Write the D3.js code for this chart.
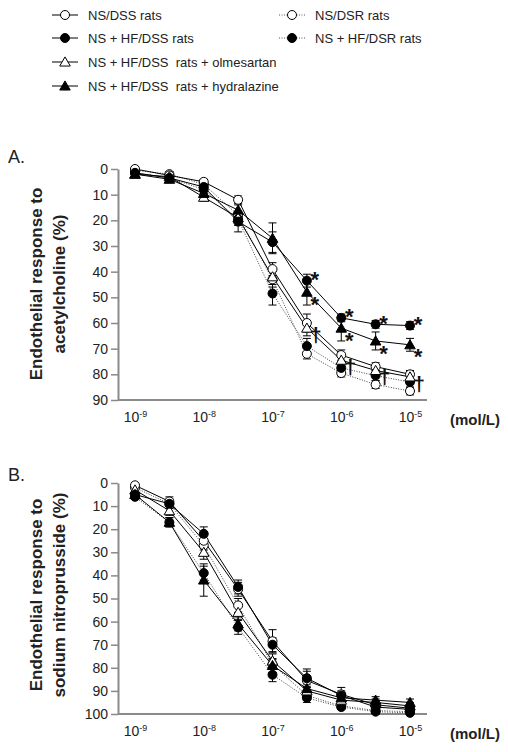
<!DOCTYPE html>
<html><head><meta charset="utf-8">
<script src="https://cdn.jsdelivr.net/npm/d3@7"></script>
<style>body{margin:0;background:#fff;} svg{display:block;font-family:Arial,"Liberation Sans",sans-serif;}</style>
</head><body>
<svg id="chart" width="508" height="752"></svg>
<script>
// ---- data ----
const logConc = [-9, -8.5, -8, -7.5, -7, -6.5, -6, -5.5, -5];
const xTickLabels = ["-9", "-8", "-7", "-6", "-5"];
const xTickValues = [-9, -8, -7, -6, -5];
const yTicksA = [0, 10, 20, 30, 40, 50, 60, 70, 80, 90];
const yTicksB = [0, 10, 20, 30, 40, 50, 60, 70, 80, 90, 100];
const seriesNames = ["NS/DSS rats", "NS + HF/DSS rats", "NS + HF/DSS  rats + olmesartan", "NS + HF/DSS  rats + hydralazine", "NS/DSR rats", "NS + HF/DSR rats"];

// Panel A: acetylcholine
const nsDssA    = [0, 2.5, 5, 12, 39, 60, 72.5, 77, 80];
const nsHfDssA  = [1.5, 3.5, 7, 20.5, 28.5, 43.5, 58, 60.5, 61];
const olmeA     = [2, 3, 11, 19, 42, 62, 74.5, 78.5, 81];
const hydraA    = [2, 4, 9.5, 16, 27, 48, 62, 67, 68.5];
const nsDsrA    = [0.5, 2, 6, 18, 43, 72, 79.5, 84, 86.5];
const nsHfDsrA  = [1.5, 3.5, 8, 19.5, 48.5, 69, 77.5, 80.5, 83];
const nsDssAErr   = [1, 1, 1, 1.5, 2.5, 3.5, 2, 1.5, 1.5];
const nsHfDssAErr = [1, 1, 1.5, 4, 4, 2.5, 1.5, 1.5, 1.5];
const olmeAErr    = [1, 1, 1.5, 2, 3, 3, 2, 2, 2];
const hydraAErr   = [1, 1, 1.5, 2, 6, 5, 5, 3.5, 2.5];
const nsDsrAErr   = [1, 1, 1, 1.5, 3, 2, 1.5, 1.5, 1.5];
const nsHfDsrAErr = [1, 1, 1.5, 2.5, 4.5, 3, 2, 2, 2];
const starIdxA = [5, 6, 7, 8];
const daggerIdxA = [5, 6, 7, 8];

// Panel B: sodium nitroprusside
const nsDssB    = [1, 8, 25, 46, 68.5, 85.5, 91.5, 96, 97.5];
const nsHfDssB  = [5, 9, 22, 45, 70, 84.5, 92, 97, 98];
const olmeB     = [3, 12, 30, 56, 77, 90, 94, 95, 96.5];
const hydraB    = [5, 17, 42, 61, 79, 89, 93, 94, 95];
const nsDsrB    = [2, 9, 27, 53, 78.5, 92, 96.5, 98.5, 99];
const nsHfDsrB  = [6, 17, 39, 62.5, 83, 93, 97, 99, 99.5];
const nsDssBErr   = [1, 2, 3, 3, 5, 4, 3, 1.5, 1.5];
const nsHfDssBErr = [1, 2, 3, 3, 3, 4, 2, 1.5, 1];
const olmeBErr    = [1, 2, 3, 3, 3, 2, 2, 1.5, 1.5];
const hydraBErr   = [1, 2, 7, 3, 3, 2, 2, 1.5, 1.5];
const nsDsrBErr   = [1, 2, 2, 3, 2, 2, 1, 1, 1];
const nsHfDsrBErr = [1, 2, 3, 3, 3, 2, 1, 1, 1];

// series styles (index aligned with seriesNames)
const styles = [
  {fill: "#fff", shape: "circle", dotted: false},
  {fill: "#000", shape: "circle", dotted: false},
  {fill: "#fff", shape: "triangle", dotted: false},
  {fill: "#000", shape: "triangle", dotted: false},
  {fill: "#fff", shape: "circle", dotted: true},
  {fill: "#000", shape: "circle", dotted: true}
];

const svg = d3.select("#chart");
const AX = "#8a8a8a";

function marker(g, shape, fill, x, y) {
  if (shape === "circle") {
    g.append("circle").attr("cx", x).attr("cy", y).attr("r", 4.5)
      .attr("fill", fill).attr("stroke", "#000").attr("stroke-width", 1);
  } else {
    g.append("path").attr("d", d3.symbol(d3.symbolTriangle, 48)())
      .attr("transform", `translate(${x},${y + 1})`)
      .attr("fill", fill).attr("stroke", "#000").attr("stroke-width", 1);
  }
}

// ---- legend ----
const legend = svg.append("g");
const legendPos = [
  {x: 52, y: 15}, {x: 52, y: 38}, {x: 52, y: 62}, {x: 52, y: 86}, {x: 279, y: 15}, {x: 279, y: 38}
];
seriesNames.forEach((name, i) => {
  const p = legendPos[i], s = styles[i];
  legend.append("line").attr("x1", p.x).attr("x2", p.x + 26).attr("y1", p.y).attr("y2", p.y)
    .attr("stroke", s.dotted ? "#555" : "#000").attr("stroke-width", 1)
    .attr("stroke-dasharray", s.dotted ? "1,1.5" : null);
  marker(legend, s.shape, s.fill, p.x + 13, p.y);
  legend.append("text").attr("x", p.x + 36).attr("y", p.y + 4.5)
    .attr("font-size", 13).attr("fill", "#222").style("white-space", "pre").text(name);
});

function panel(opts) {
  const {label, labelY, yDomain, yTop, yBottom, yTicks, title2, series, errs, titleCenter} = opts;
  const x = d3.scaleLinear().domain([-9, -5]).range([135, 410]);
  const y = d3.scaleLinear().domain(yDomain).range([yTop, yBottom]);
  const g = svg.append("g");

  g.append("text").attr("x", 8).attr("y", labelY).attr("font-size", 18).attr("fill", "#222").text(label);

  // y axis
  const ya = g.append("g").attr("transform", "translate(118,0)")
    .call(d3.axisLeft(y).tickValues(yTicks).tickSize(7).tickSizeOuter(0).tickPadding(3));
  ya.select(".domain").attr("stroke", AX).attr("stroke-width", 2);
  ya.selectAll(".tick line").attr("stroke", AX).attr("stroke-width", 1.5);
  ya.selectAll(".tick text").attr("font-size", 14).attr("fill", "#222").attr("font-family", "Arial, 'Liberation Sans', sans-serif");

  // x axis
  const xa = g.append("g").attr("transform", `translate(0,${yBottom})`)
    .call(d3.axisBottom(x).tickValues(xTickValues).tickSize(0).tickPadding(12).tickSizeOuter(0));
  xa.select(".domain").attr("d", `M118,0H427`).attr("stroke", AX).attr("stroke-width", 2);
  xa.selectAll(".tick text").each(function(d, i) {
    const t = d3.select(this).text(null).attr("font-size", 14).attr("fill", "#222")
      .attr("font-family", "Arial, 'Liberation Sans', sans-serif");
    t.append("tspan").text("10");
    t.append("tspan").attr("font-size", 9).attr("dy", "-0.55em").text(xTickLabels[i]);
  });
  g.append("text").attr("x", 450).attr("y", yBottom + 25).attr("font-size", 15).attr("font-weight", "bold")
    .attr("fill", "#222").text("(mol/L)");

  // y title
  const tt = g.append("text").attr("transform", `translate(0,${titleCenter}) rotate(-90)`)
    .attr("text-anchor", "middle").attr("font-size", 17).attr("font-weight", "bold").attr("fill", "#222");
  tt.append("tspan").attr("x", 0).attr("y", 42).text("Endothelial response to");
  tt.append("tspan").attr("x", 0).attr("y", 65).text(title2);

  const order = [4, 5, 0, 2, 3, 1];
  const line = d3.line().x((d, i) => x(logConc[i])).y(d => y(d));
  // error bars
  order.forEach(si => {
    const eg = g.append("g").attr("stroke", "#000").attr("stroke-width", 1);
    series[si].forEach((v, i) => {
      const cx = x(logConc[i]), e = errs[si][i];
      eg.append("line").attr("x1", cx).attr("x2", cx).attr("y1", y(v - e)).attr("y2", y(v + e));
      eg.append("line").attr("x1", cx - 4).attr("x2", cx + 4).attr("y1", y(v - e)).attr("y2", y(v - e));
      eg.append("line").attr("x1", cx - 4).attr("x2", cx + 4).attr("y1", y(v + e)).attr("y2", y(v + e));
    });
  });
  order.forEach(si => {
    const s = styles[si];
    g.append("path").datum(series[si]).attr("d", line).attr("fill", "none")
      .attr("stroke", s.dotted ? "#444" : "#000").attr("stroke-width", 1)
      .attr("stroke-dasharray", s.dotted ? "1,1.5" : null);
  });
  order.forEach(si => {
    const s = styles[si];
    series[si].forEach((v, i) => marker(g, s.shape, s.fill, x(logConc[i]), y(v)));
  });
  return {g, x, y};
}

const pA = panel({label: "A.", labelY: 163, yDomain: [0, 90], yTop: 169, yBottom: 400, yTicks: yTicksA,
  title2: "acetylcholine (%)", titleCenter: 284,
  series: [nsDssA, nsHfDssA, olmeA, hydraA, nsDsrA, nsHfDsrA],
  errs: [nsDssAErr, nsHfDssAErr, olmeAErr, hydraAErr, nsDsrAErr, nsHfDsrAErr]});

// significance marks on panel A
const STAR_FS = 22;
starIdxA.forEach(i => {
  const cx = pA.x(logConc[i]);
  pA.g.append("text").attr("x", cx + 8).attr("y", pA.y(nsHfDssA[i]) - 6 + 0.57 * STAR_FS).attr("text-anchor", "middle")
    .attr("font-size", STAR_FS).attr("font-weight", "bold").attr("fill", "#111").text("*");
  pA.g.append("text").attr("x", cx + 8).attr("y", pA.y(hydraA[i]) + 7 + 0.57 * STAR_FS).attr("text-anchor", "middle")
    .attr("font-size", STAR_FS).attr("font-weight", "bold").attr("fill", "#111").text("*");
});
daggerIdxA.forEach(i => {
  const cx = pA.x(logConc[i]);
  pA.g.append("text").attr("x", cx + 9).attr("y", pA.y(olmeA[i]) + 6 + 8).attr("text-anchor", "middle")
    .attr("font-size", 21).attr("font-weight", "bold").attr("fill", "#111").text("†");
});

panel({label: "B.", labelY: 481, yDomain: [0, 100], yTop: 483, yBottom: 714, yTicks: yTicksB,
  title2: "sodium nitroprusside (%)", titleCenter: 595,
  series: [nsDssB, nsHfDssB, olmeB, hydraB, nsDsrB, nsHfDsrB],
  errs: [nsDssBErr, nsHfDssBErr, olmeBErr, hydraBErr, nsDsrBErr, nsHfDsrBErr]});
</script>
</body></html>
